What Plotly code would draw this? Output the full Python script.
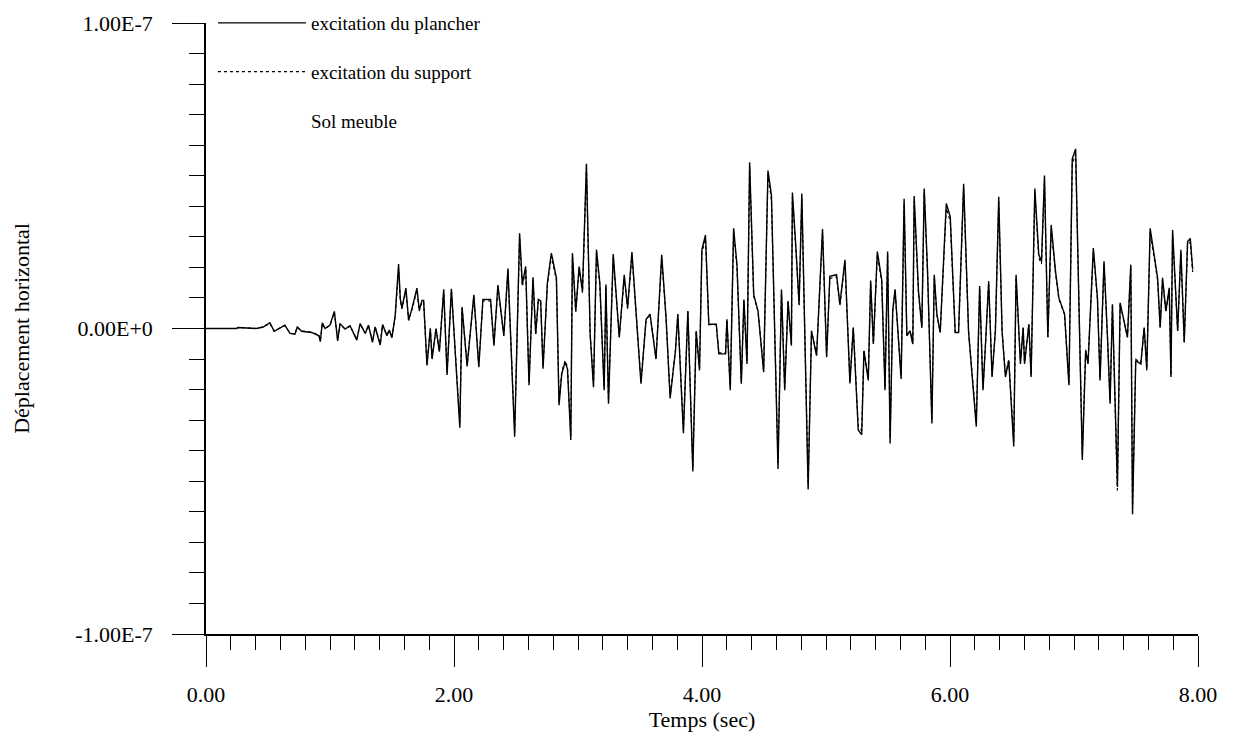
import plotly.graph_objects as go

# Temps (s)
TEMPS = [
    0.000, 0.245, 0.259, 0.407, 0.461, 0.515, 0.550, 0.636, 0.677, 0.717,
    0.736, 0.771, 0.852, 0.911, 0.922, 0.938, 0.960, 1.000, 1.035, 1.062,
    1.081, 1.122, 1.162, 1.216, 1.243, 1.284, 1.310, 1.343, 1.364, 1.405,
    1.424, 1.459, 1.478, 1.499, 1.526, 1.553, 1.567, 1.580, 1.612, 1.634,
    1.661, 1.701, 1.720, 1.742, 1.755, 1.782, 1.809, 1.823, 1.855, 1.882,
    1.917, 1.944, 1.979, 2.011, 2.047, 2.065, 2.106, 2.160,
    2.200, 2.233, 2.295, 2.322, 2.354, 2.402, 2.435, 2.489, 2.529, 2.551,
    2.578, 2.605, 2.637, 2.659, 2.680, 2.699, 2.718, 2.753, 2.785, 2.826,
    2.847, 2.869, 2.896, 2.915, 2.942, 2.955, 2.982, 3.009, 3.036, 3.068,
    3.098, 3.125, 3.149, 3.176, 3.211, 3.225, 3.246, 3.284, 3.311, 3.333,
    3.373, 3.400, 3.435, 3.468, 3.508, 3.549, 3.581, 3.629, 3.675, 3.710,
    3.743, 3.786, 3.805, 3.850, 3.886, 3.926, 3.953, 3.980, 3.999, 4.028,
    4.055, 4.115, 4.136, 4.190, 4.201, 4.228, 4.255, 4.282, 4.317, 4.338,
    4.363, 4.384, 4.417, 4.452, 4.497, 4.532, 4.560, 4.613, 4.641, 4.667,
    4.694, 4.721, 4.729, 4.756, 4.783, 4.805, 4.829, 4.856, 4.883, 4.924,
    4.972, 5.005, 5.031, 5.085, 5.112, 5.153,
    5.193, 5.220, 5.260, 5.288, 5.306, 5.341, 5.360, 5.382, 5.414, 5.449,
    5.476, 5.497, 5.517, 5.538, 5.557, 5.606, 5.630, 5.652, 5.678, 5.700,
    5.711, 5.746, 5.773, 5.792, 5.819, 5.854, 5.873, 5.894, 5.921, 5.970,
    6.002, 6.042, 6.069, 6.110, 6.150, 6.177, 6.212, 6.239, 6.266, 6.285,
    6.312, 6.339, 6.366, 6.393, 6.420, 6.447, 6.474, 6.514, 6.533, 6.568,
    6.590, 6.601, 6.636, 6.654, 6.684, 6.716, 6.738, 6.762, 6.789, 6.816,
    6.851, 6.878, 6.924, 6.959, 6.986, 7.013, 7.032, 7.067, 7.094, 7.113,
    7.156, 7.189, 7.210, 7.242, 7.270, 7.291, 7.310, 7.350, 7.372, 7.399,
    7.431, 7.458, 7.472, 7.498, 7.539, 7.566, 7.587, 7.614, 7.647, 7.674,
    7.695, 7.714, 7.741, 7.768, 7.782, 7.795, 7.836, 7.862, 7.889, 7.916,
    7.938, 7.957,
]

# Déplacement, en unités de 1E-8
DEPL_PLANCHER = [
    0, 0, 0.03, 0, 0.05, 0.19, -0.09, 0.11, -0.16, -0.19,
    0.05, -0.09, -0.13, -0.24, -0.43, 0.19, 0, 0.11, 0.56, -0.41,
    0.16, -0.02, 0.09, -0.38, 0.16, -0.16, 0.11, -0.45, 0.05, -0.54,
    0.13, -0.24, -0.05, -0.30, 0.43, 2.11, 0.97, 0.67, 1.32, 0.27,
    0.65, 1.32, 0.60, 0.92, 0.92, -1.21, 0, -1.0, 0, -0.76,
    1.28, -1.52, 1.30, -0.76, -3.25, 0.70, -1.24, 1.10,
    -1.27, 0.95, 0.95, -0.56, 1.42, -0.24, 1.96, -3.54, 3.12, 1.44,
    2.03, -1.86, 1.68, -0.18, 0.95, 0.90, -1.32, 1.49, 2.47, 1.66,
    -2.51, -1.48, -1.10, -1.32, -3.65, 2.47, 0.57, 2.03, 1.22, 5.39,
    -0.18, -1.92, 2.58, 1.49, -2.02, 1.44, -2.46, 2.44, 1.00, -0.29,
    1.76, 0.68, 2.50, 0.63, -1.81, 0.30, 0.47, -1.00, 2.41, 0.36,
    -2.29, -0.73, 0.47, -3.43, 0.57, -4.68, -0.08, -1.37, 2.58, 3.06,
    0.14, 0.14, -0.83, -0.83, 0.30, -2.02, 3.28, 2.09, -1.81, 0.95,
    -1.16, 5.44, 1.11, 0.57, -1.43, 5.17, 4.36, -4.60, 1.28, -2.02,
    0.90, -0.56, 4.45, 2.74, 0.79, 4.42, -0.08, -5.27, -0.08, -0.89,
    3.26, -0.94, 1.71, 1.76, 0.79, 2.25,
    -1.80, 0.03, -3.32, -3.48, -0.73, -1.70, 1.57, -0.51, 2.52, 1.60,
    -2.02, 2.52, -3.76, 0.57, 1.28, -1.65, 4.25, -0.24, -0.08, -0.51,
    4.34, 1.22, 0.03, 4.58, 1.87, -3.11, 1.76, 0.47, -0.13, 4.09,
    3.66, -0.13, -0.13, 4.74, -0.13, -1.37, -3.21, 1.39, -2.02, -0.62,
    1.55, -1.59, -0.08, 4.31, -0.08, -1.59, -1.05, -3.86, 1.76, -1.16,
    0.03, -1.16, 0.14, -1.59, 4.58, 2.41, 2.20, 5.01, -0.29, 3.39,
    1.87, 1.00, 0.47, -1.86, 5.55, 5.88, 2.63, -4.30, -0.73, -1.16,
    2.63, 1.00, -1.70, 2.20, -0.29, -2.46, 0.79, -5.16, 0.84, 0.30,
    -0.29, 2.09, -6.08, -1.05, -1.16, 0.03, -1.37, 3.28, 2.31, 1.66,
    0.03, 1.66, 0.57, 1.33, -1.59, 3.22, -0.08, 2.58, -0.46, 2.85,
    2.95, 1.93,
]

DEPL_SUPPORT = [
    0, 0, 0.03, 0, 0.05, 0.17, -0.08, 0.10, -0.15, -0.18,
    0.05, -0.08, -0.12, -0.22, -0.40, 0.17, 0, 0.10, 0.52, -0.38,
    0.15, -0.02, 0.08, -0.35, 0.15, -0.15, 0.10, -0.42, 0.05, -0.50,
    0.12, -0.22, -0.05, -0.28, 0.40, 1.95, 0.92, 0.64, 1.25, 0.27,
    0.62, 1.25, 0.57, 0.88, 0.88, -1.15, 0, -0.95, 0, -0.72,
    1.22, -1.45, 1.24, -0.72, -3.10, 0.66, -1.18, 1.05,
    -1.20, 0.90, 0.90, -0.53, 1.35, -0.22, 1.88, -3.40, 3.00, 1.38,
    1.95, -1.78, 1.60, -0.17, 0.90, 0.86, -1.26, 1.42, 2.36, 1.58,
    -2.40, -1.42, -1.05, -1.26, -3.50, 2.36, 0.55, 1.95, 1.17, 5.25,
    -0.17, -1.84, 2.47, 1.42, -1.94, 1.38, -2.36, 2.34, 0.96, -0.28,
    1.68, 0.65, 2.40, 0.60, -1.74, 0.29, 0.45, -0.96, 2.31, 0.35,
    -2.20, -0.70, 0.45, -3.30, 0.55, -4.55, -0.08, -1.31, 2.48, 2.94,
    0.13, 0.13, -0.80, -0.80, 0.29, -1.94, 3.15, 2.00, -1.74, 0.91,
    -1.11, 5.30, 1.06, 0.55, -1.37, 5.05, 4.20, -4.40, 1.23, -1.94,
    0.86, -0.54, 4.30, 2.63, 0.76, 4.25, -0.08, -5.10, -0.08, -0.85,
    3.13, -0.90, 1.64, 1.69, 0.76, 2.16,
    -1.73, 0.03, -3.19, -3.34, -0.70, -1.63, 1.51, -0.49, 2.42, 1.54,
    -1.94, 2.42, -3.61, 0.55, 1.23, -1.58, 4.08, -0.23, -0.08, -0.49,
    4.17, 1.17, 0.03, 4.45, 1.80, -2.99, 1.69, 0.45, -0.12, 3.93,
    3.51, -0.12, -0.12, 4.60, -0.12, -1.32, -3.08, 1.33, -1.94, -0.60,
    1.49, -1.53, -0.08, 4.14, -0.08, -1.53, -1.01, -3.70, 1.69, -1.11,
    0.03, -1.11, 0.13, -1.53, 4.45, 2.31, 2.11, 4.85, -0.28, 3.25,
    1.80, 0.96, 0.45, -1.79, 5.40, 5.70, 2.52, -4.15, -0.70, -1.11,
    2.52, 0.96, -1.63, 2.11, -0.28, -2.36, 0.76, -5.30, 0.81, 0.29,
    -0.28, 2.01, -5.90, -1.01, -1.11, 0.03, -1.32, 3.15, 2.22, 1.59,
    0.03, 1.59, 0.55, 1.28, -1.53, 3.09, -0.08, 2.48, -0.44, 2.74,
    2.83, 1.85,
]

ECHELLE = 1e-8
Y_TICKS = [-1e-7, 0.0, 1e-7]
Y_TICKTEXT = ["-1.00E-7", "0.00E+0", "1.00E-7"]
NOMS = ["excitation du plancher", "excitation du support", "Sol meuble"]

FONT = "Liberation Serif, Times New Roman, serif"

fig = go.Figure()
fig.add_trace(go.Scatter(
    x=TEMPS, y=[v * ECHELLE for v in DEPL_SUPPORT], mode="lines",
    name=NOMS[1], legendrank=2, legendgroup="b",
    line=dict(color="black", width=1.2, dash="dot"),
))
fig.add_trace(go.Scatter(
    x=TEMPS, y=[v * ECHELLE for v in DEPL_PLANCHER], mode="lines",
    name=NOMS[0], legendrank=1, legendgroup="a",
    line=dict(color="black", width=1.4),
))
fig.add_trace(go.Scatter(
    x=[None], y=[None], mode="lines", name=NOMS[2], legendrank=3,
    legendgroup="c", line=dict(color="rgba(0,0,0,0)", width=0),
    hoverinfo="skip",
))

fig.update_layout(
    width=1235, height=732,
    margin=dict(l=206, r=37, t=23, b=98, autoexpand=False),
    paper_bgcolor="white", plot_bgcolor="white",
    font=dict(family=FONT, size=22, color="black"),
    showlegend=True,
    legend=dict(
        x=0.007, y=1.031, xanchor="left", yanchor="top",
        itemwidth=88, tracegroupgap=21, bgcolor="rgba(0,0,0,0)",
        font=dict(family=FONT, size=19, color="black"),
        itemclick=False, itemdoubleclick=False,
    ),
    xaxis=dict(
        range=[0, 8], tickmode="linear", tick0=0, dtick=2, tickformat=".2f",
        showline=True, linecolor="black", linewidth=1.5, automargin=False,
        ticks="outside", ticklen=31, tickwidth=1.3, tickcolor="black",
        ticklabelstandoff=9,
        minor=dict(tickmode="linear", tick0=0, dtick=0.2, ticks="outside",
                   ticklen=14, tickwidth=1.2, tickcolor="black", showgrid=False),
        showgrid=False, zeroline=False,
        title=dict(text="Temps (sec)", standoff=2, font=dict(size=22)),
    ),
    yaxis=dict(
        range=[-1e-7, 1e-7], tickmode="array", tickvals=Y_TICKS, ticktext=Y_TICKTEXT,
        showline=True, linecolor="black", linewidth=1.5, automargin=False,
        ticks="outside", ticklen=32, tickwidth=1.3, tickcolor="black",
        ticklabelstandoff=15,
        minor=dict(tickmode="linear", tick0=0, dtick=1e-8, ticks="outside",
                   ticklen=15, tickwidth=1.2, tickcolor="black", showgrid=False),
        showgrid=False, zeroline=False,
        title=dict(text="Déplacement horizontal", standoff=40, font=dict(size=22)),
    ),
)

fig.write_html("out.html")
